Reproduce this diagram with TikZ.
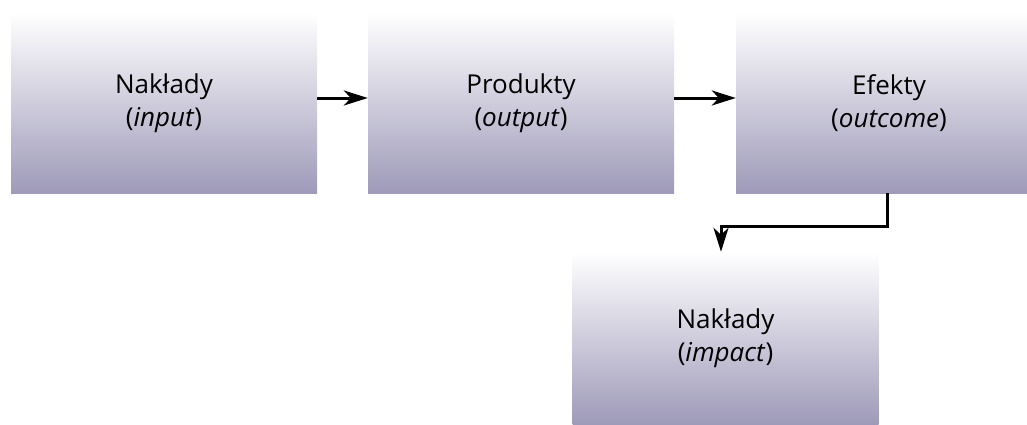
\documentclass[tikz,border=0pt]{standalone}
\usepackage{fontspec}
\setmainfont{Open Sans}
\usetikzlibrary{arrows.meta}
\definecolor{boxbot}{RGB}{158,154,185}
\tikzset{
  stage/.style={rectangle, minimum width=306pt, minimum height=180pt, inner sep=0pt,
    top color=white, bottom color=boxbot, draw=none,
    font=\fontsize{26}{33}\selectfont, align=center, text=black},
  conn/.style={line width=3pt, -{Stealth[length=24pt,width=15pt,inset=7pt]}}
}
\begin{document}
\begin{tikzpicture}[x=1pt,y=1pt]
\useasboundingbox (0,0) rectangle (1027,424);
\clip (0,0) rectangle (1027,424);
\node[stage] (a) at (164,321) {Nakłady\\(\textit{input})};
\node[stage] (b) at (521,321) {Produkty\\(\textit{output})};
\node[stage] (c) at (889,321) {Efekty\\(\textit{outcome})};
\node[stage, minimum height=172pt] (d) at (725.5,86) {Nakłady\\(\textit{impact})};
\draw[conn] (a.east |- 0,326) -- (b.west |- 0,326);
\draw[conn] (b.east |- 0,326) -- (c.west |- 0,326);
\coordinate (k) at (721,198);
\draw[conn] (c.south -| 887,0) |- (k) -- (k |- d.north);
\end{tikzpicture}
\end{document}
